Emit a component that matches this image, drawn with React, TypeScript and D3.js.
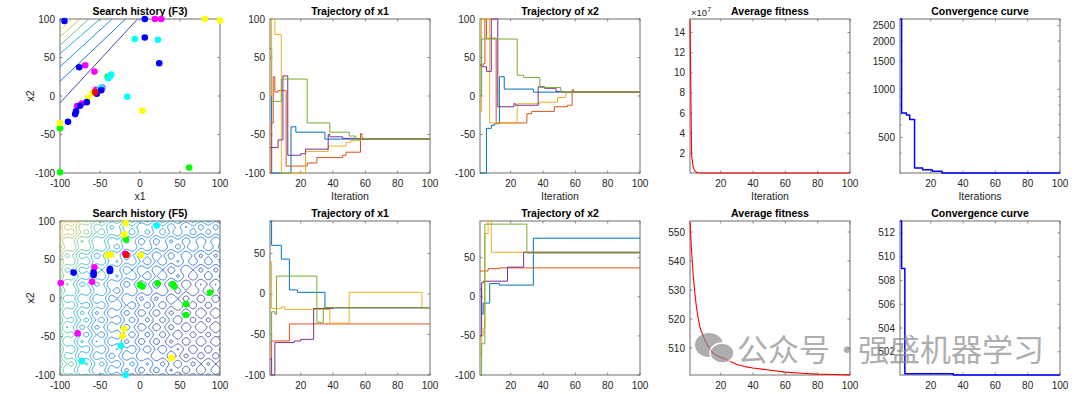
import React, { useEffect, useRef } from "react";
import * as d3 from "d3";

const WIDTH = 1080;
const HEIGHT = 394;
const PANEL_X = [60, 270, 480, 690, 900];
const PANEL_Y = [19, 221];
const PANEL_W = 160;
const PANEL_H = 154;

const FONT = "'Liberation Sans', Arial, Helvetica, sans-serif";
const AXIS_COLOR = "#6e6e6e";
const TEXT_COLOR = "#262626";

const PARULA = ["#352a87", "#0363e1", "#1385d4", "#07a7c3", "#42bc92", "#9bbf5c", "#e2ba30", "#f7d126", "#f9fb0e"];
const AGENT_COLORS = ["#0072BD", "#D95319", "#EDB120", "#7E2F8E", "#77AC30"];

const positionTicks = [-100, -50, 0, 50, 100];
const iterationTicks = [20, 40, 60, 80, 100];

// ---- F3 search history ----
const f3ContourLeftX2 = [86, 77, 66, 55, 38, 19, -9];
const f3ContourTopX1 = [-84, -75, -64, -50, -35, -18, -3];
const f3ContourLevel = [0.86, 0.68, 0.55, 0.4, 0.26, 0.13, 0.03];

const f3Green = [[-100, -42], [-100, -99], [61.4, -93], [-40.5, 25]];
const f3Yellow = [[81, 100], [100, 98], [3, -19], [-59.7, 3.7], [-65, -3], [-100, -35], [-52, 6]];
const f3Magenta = [[18.7, 100], [26.6, 100], [-68.5, 40], [-57, 31.7], [-72.7, -9.7], [-78.6, -13], [-55, 8], [-47, 11]];
const f3Cyan = [[-6.5, 74], [22.4, 73], [-36, 28], [-39.6, 23], [-37, 26], [-48, 11], [-50, 9], [-16, -1]];
const f3Blue = [[-94.5, 97.4], [6, 100], [6, 76], [24, 42.5], [-76, 37.4], [-48.4, 7.6], [-66.5, -8], [-75, -12.7], [-80, -20], [-81, -23.5], [-90, -33.5], [-54, 3]];
const f3Red = [[-56, 5]];

// ---- F5 search history ----
const f5Yellow = [[-17.9, 97], [-19.6, 82.6], [-36.7, 56], [-40, 56], [0.8, 55.5], [-20, -40], [-21.7, -49.5], [39.6, -78]];
const f5Green = [[-17.5, 76], [0, 17], [3, 15], [22, 19], [41, 18], [43, 15], [87.5, 7], [57.5, -8], [57.5, -22]];
const f5Cyan = [[21, 94], [-24, -62], [-72.5, -82], [-18, -100]];
const f5Magenta = [[-18.5, 57.5], [-57, 40], [-60, 21], [-99, 19.5], [-78, -46]];
const f5Blue = [[-83, 33], [-58, 33], [-58, 30], [-37.5, 37.7], [-37.5, 35]];
const f5Red = [[-17, 56]];

// background landscape of F5 (ripple lattice over a bowl)
const F5_PERIOD = 18.8;
const F5_BOWL_CENTER = [85, -35];
const F5_LATTICE_ORIGIN = [-18, 56];
const F5_RIPPLE = 4.5;
const F5_LEVELS = 20;
const F5_COLOR_SPAN = 0.9;
const F5_COLOR_GAMMA = 1.25;

// ---- trajectories, [iteration, value] held until next entry ----
const trajX1F3 = [
  [[1, 62], [2, -100], [14, -40], [17, -47], [35, -56], [100, -56]],
  [[1, -100], [2, -35], [3, 25], [4, 5], [6, 7], [11, -91], [24, -87], [30, -80], [46, -77], [48, -73], [57, -49], [58, -56], [100, -56]],
  [[1, 0], [2, 100], [4, 80], [8, -100], [23, -72], [37, -65], [48, -60], [51, -58], [57, -56], [100, -56]],
  [[1, -67], [6, -57], [9, 26], [12, -77], [20, -75], [23, -69], [37, -50], [38, -53], [46, -55], [56, -56], [100, -56]],
  [[1, -7], [8, 22], [24, -35], [38, -47], [50, -52], [54, -56], [100, -56]],
];
const trajX2F3 = [
  [[1, -100], [5, -42], [8, -38], [10, -36], [13, 25], [16, 9], [34, 5], [100, 5]],
  [[1, 40], [3, 42], [4, 100], [5, 75], [11, -35], [30, -23], [33, -20], [47, -14], [55, -12], [58, 8], [59, 5], [100, 5]],
  [[1, -20], [2, 100], [7, -35], [24, -10], [38, -8], [49, -2], [54, 4], [56, 5], [100, 5]],
  [[1, 40], [2, 38], [5, 32], [8, 100], [12, -14], [22, -10], [23, -12], [37, 12], [41, 10], [48, 6], [52, 5], [100, 5]],
  [[1, 0], [2, 74], [24, 27], [28, 24], [38, 11], [51, 5], [100, 5]],
];
const trajX1F5 = [
  [[1, 90], [2, 60], [8, 43], [13, 5], [18, 2], [35, -17], [100, -17]],
  [[1, -80], [2, -58], [13, -37], [100, -37]],
  [[1, 40], [2, -18], [8, -16], [10, -19], [38, -36], [50, 2], [95, -17], [100, -17]],
  [[1, -80], [2, -100], [4, -60], [16, -58], [20, -56], [28, -18], [40, -17], [100, -17]],
  [[1, -60], [2, -22], [4, -25], [5, 22], [30, -35], [34, -17], [100, -17]],
];
const trajX2F5 = [
  [[1, 10], [2, -22], [3, -8], [7, 17], [13, 15], [34, 75], [100, 75]],
  [[1, 33], [6, 36], [13, 37], [100, 37]],
  [[1, -75], [2, -50], [3, -40], [4, 81], [6, 97], [8, 57], [100, 57]],
  [[1, -50], [2, 18], [3, 20], [18, 38], [28, 57], [100, 57]],
  [[1, -100], [2, -60], [4, 93], [30, 56], [100, 56]],
];

// ---- fitness ----
const avgFitnessF3 = [[1, 1.53e8], [2, 1.8e7], [3, 6e6], [4, 2.5e6], [5, 1e6], [6, 6e5], [8, 4.5e5], [15, 4e5], [100, 4e5]];
const avgFitnessF3Ticks = [2e7, 4e7, 6e7, 8e7, 10e7, 12e7, 14e7];
const convergenceF3 = [[1, 2750], [2, 710], [5, 690], [7, 648], [10, 322], [15, 314], [21, 308], [27, 300], [100, 300]];
const convergenceF3Ticks = [500, 1000, 1500, 2000, 2500];
const convergenceF3Minor = [300, 400, 600, 700, 800, 900];

const avgFitnessF5 = [[1, 553.5], [2, 543], [3, 535], [4, 529], [5, 524], [6, 520.5], [7, 517.6], [8, 515.7], [9, 514.5], [10, 513], [11, 511.8], [12, 511], [13, 510], [14, 509.2], [15, 508.4], [17, 507.6], [20, 506.8], [25, 505.6], [30, 504.3], [35, 503.6], [40, 503.1], [50, 502.4], [60, 501.7], [70, 501.3], [80, 501], [90, 500.85], [100, 500.75]];
const avgFitnessF5Ticks = [510, 520, 530, 540, 550];
const convergenceF5 = [[1, 513], [2, 509], [4, 500.15], [34, 500.05], [100, 500.05]];
const convergenceF5Ticks = [502, 504, 506, 508, 510, 512];

type Svg = d3.Selection<SVGSVGElement, unknown, null, undefined>;
type Scale = (v: number) => number;

interface AxesOpts {
  title: string;
  xTicks: number[];
  yTicks: number[];
  yFmt?: (v: number) => string;
  yMinor?: number[];
  xLabel?: string;
  yLabel?: string;
}

function drawAxes(svg: Svg, col: number, row: number, x: Scale, y: Scale, o: AxesOpts) {
  const left = PANEL_X[col];
  const top = PANEL_Y[row];
  const right = left + PANEL_W;
  const bottom = top + PANEL_H;
  const tl = 2.5;
  const g = svg.append("g").attr("font-family", FONT);

  g.append("rect")
    .attr("x", left)
    .attr("y", top)
    .attr("width", PANEL_W)
    .attr("height", PANEL_H)
    .attr("fill", "white")
    .attr("stroke", AXIS_COLOR)
    .attr("stroke-width", 1);

  const tick = (x1: number, y1: number, x2: number, y2: number) =>
    g.append("line").attr("x1", x1).attr("y1", y1).attr("x2", x2).attr("y2", y2)
      .attr("stroke", AXIS_COLOR).attr("stroke-width", 0.8);

  o.xTicks.forEach((t) => {
    const px = x(t);
    tick(px, bottom, px, bottom - tl);
    tick(px, top, px, top + tl);
    g.append("text")
      .attr("x", px)
      .attr("y", bottom + 13.5)
      .attr("text-anchor", "middle")
      .attr("font-size", 10)
      .attr("fill", TEXT_COLOR)
      .text(String(t));
  });

  const fmt = o.yFmt ?? ((v: number) => String(v));
  o.yTicks.forEach((t) => {
    const py = y(t);
    tick(left, py, left + tl, py);
    tick(right, py, right - tl, py);
    g.append("text")
      .attr("x", left - 5)
      .attr("y", py + 3.5)
      .attr("text-anchor", "end")
      .attr("font-size", 10)
      .attr("fill", TEXT_COLOR)
      .text(fmt(t));
  });

  (o.yMinor ?? []).forEach((t) => {
    const py = y(t);
    tick(left, py, left + 1.5, py);
    tick(right, py, right - 1.5, py);
  });

  g.append("text")
    .attr("x", left + PANEL_W / 2)
    .attr("y", top - 4.5)
    .attr("text-anchor", "middle")
    .attr("font-size", 10.5)
    .attr("font-weight", "bold")
    .attr("fill", "#000")
    .text(o.title);

  if (o.xLabel) {
    g.append("text")
      .attr("x", left + PANEL_W / 2)
      .attr("y", bottom + 26.5)
      .attr("text-anchor", "middle")
      .attr("font-size", 10.5)
      .attr("fill", TEXT_COLOR)
      .text(o.xLabel);
  }
  if (o.yLabel) {
    g.append("text")
      .attr("transform", `translate(${left - 26},${top + PANEL_H / 2}) rotate(-90)`)
      .attr("text-anchor", "middle")
      .attr("font-size", 10.5)
      .attr("fill", TEXT_COLOR)
      .text(o.yLabel);
  }
}

function clipFor(svg: Svg, col: number, row: number, pad: number) {
  const id = `clip-${col}-${row}-${pad}`;
  svg.append("clipPath")
    .attr("id", id)
    .append("rect")
    .attr("x", PANEL_X[col] - pad)
    .attr("y", PANEL_Y[row] - pad)
    .attr("width", PANEL_W + 2 * pad)
    .attr("height", PANEL_H + 2 * pad);
  return `url(#${id})`;
}

function f5Landscape(a: number, b: number) {
  const q1 = (a - F5_BOWL_CENTER[0]) / F5_PERIOD;
  const q2 = (b - F5_BOWL_CENTER[1]) / F5_PERIOD;
  const r1 = (a - F5_LATTICE_ORIGIN[0]) / F5_PERIOD;
  const r2 = (b - F5_LATTICE_ORIGIN[1]) / F5_PERIOD;
  return q1 * q1 + q2 * q2 +
    F5_RIPPLE * (2 - Math.cos(2 * Math.PI * r1) - Math.cos(2 * Math.PI * r2));
}

const parula = d3.piecewise(d3.interpolateRgb, PARULA);

const App: React.FC = () => {
  const svgRef = useRef<SVGSVGElement | null>(null);

  useEffect(() => {
    if (!svgRef.current) return;
    const svg = d3.select(svgRef.current) as Svg;
    svg.selectAll("*").remove();

    const xScale = (col: number, domain: number[]) =>
      d3.scaleLinear().domain(domain).range([PANEL_X[col], PANEL_X[col] + PANEL_W]);
    const yScale = (row: number, domain: number[]) =>
      d3.scaleLinear().domain(domain).range([PANEL_Y[row] + PANEL_H, PANEL_Y[row]]);

    const scatter = (col: number, row: number, x: Scale, y: Scale, groups: [number[][], string][]) => {
      const g = svg.append("g").attr("clip-path", clipFor(svg, col, row, 4));
      groups.forEach(([pts, color]) => {
        g.selectAll(null)
          .data(pts)
          .join("circle")
          .attr("cx", (d) => x(d[0]))
          .attr("cy", (d) => y(d[1]))
          .attr("r", 3.3)
          .attr("fill", color);
      });
    };

    const lines = (col: number, row: number, x: Scale, y: Scale, series: number[][][], colors: string[], width: number, curve: d3.CurveFactory) => {
      const g = svg.append("g").attr("clip-path", clipFor(svg, col, row, 1));
      const line = d3.line<number[]>().x((d) => x(d[0])).y((d) => y(d[1])).curve(curve);
      series.forEach((s, i) => {
        g.append("path")
          .attr("d", line(s))
          .attr("fill", "none")
          .attr("stroke", colors[i])
          .attr("stroke-width", width)
          .attr("stroke-linejoin", "round");
      });
    };

    // ===== Row 1: F3 =====
    {
      const x = xScale(0, [-100, 100]);
      const y = yScale(0, [-100, 100]);
      drawAxes(svg, 0, 0, x, y, { title: "Search history (F3)", xTicks: positionTicks, yTicks: positionTicks, xLabel: "x1", yLabel: "x2" });
      const cg = svg.append("g").attr("clip-path", clipFor(svg, 0, 0, 0));
      f3ContourLeftX2.forEach((v, i) => {
        cg.append("line")
          .attr("x1", x(-100)).attr("y1", y(v))
          .attr("x2", x(f3ContourTopX1[i])).attr("y2", y(100))
          .attr("stroke", parula(f3ContourLevel[i]))
          .attr("stroke-width", 0.9);
      });
      scatter(0, 0, x, y, [[f3Green, "#00ff00"], [f3Yellow, "#ffff00"], [f3Magenta, "#ff00ff"], [f3Cyan, "#00ffff"], [f3Blue, "#0000ff"], [f3Red, "#ff0000"]]);
    }
    {
      const x = xScale(1, [1, 100]);
      const y = yScale(0, [-100, 100]);
      drawAxes(svg, 1, 0, x, y, { title: "Trajectory of x1", xTicks: iterationTicks, yTicks: positionTicks, xLabel: "Iteration" });
      lines(1, 0, x, y, trajX1F3, AGENT_COLORS, 1, d3.curveStepAfter);
    }
    {
      const x = xScale(2, [1, 100]);
      const y = yScale(0, [-100, 100]);
      drawAxes(svg, 2, 0, x, y, { title: "Trajectory of x2", xTicks: iterationTicks, yTicks: positionTicks, xLabel: "Iteration" });
      lines(2, 0, x, y, trajX2F3, AGENT_COLORS, 1, d3.curveStepAfter);
    }
    {
      const x = xScale(3, [1, 100]);
      const y = yScale(0, [4e5, 1.535e8]);
      drawAxes(svg, 3, 0, x, y, { title: "Average fitness", xTicks: iterationTicks, yTicks: avgFitnessF3Ticks, yFmt: (v) => String(Math.round(v / 1e7)), xLabel: "Iteration" });
      const t = svg.append("text")
        .attr("x", PANEL_X[3] + 1)
        .attr("y", PANEL_Y[0] - 3)
        .attr("font-family", FONT)
        .attr("font-size", 9.5)
        .attr("fill", TEXT_COLOR)
        .text("×10");
      t.append("tspan").attr("dy", -4).attr("font-size", 7).text("7");
      lines(3, 0, x, y, [avgFitnessF3], ["#ff0000"], 1.1, d3.curveLinear);
    }
    {
      const x = xScale(4, [1, 100]);
      const y = d3.scaleLog().domain([300, 2750]).range([PANEL_Y[0] + PANEL_H, PANEL_Y[0]]);
      drawAxes(svg, 4, 0, x, y, { title: "Convergence curve", xTicks: iterationTicks, yTicks: convergenceF3Ticks, yMinor: convergenceF3Minor, xLabel: "Iterations" });
      lines(4, 0, x, y, [convergenceF3], ["#0000ff"], 1.5, d3.curveStepAfter);
    }

    // ===== Row 2: F5 (x labels fall below the picture edge) =====
    {
      const x = xScale(0, [-100, 100]);
      const y = yScale(1, [-100, 100]);
      drawAxes(svg, 0, 1, x, y, { title: "Search history (F5)", xTicks: positionTicks, yTicks: positionTicks, yLabel: "x2" });

      const n = 220;
      const lo = -102;
      const hi = 102;
      const values: number[] = new Array(n * n);
      for (let j = 0; j < n; j++) {
        for (let i = 0; i < n; i++) {
          const a = lo + ((hi - lo) * i) / (n - 1);
          const b = hi - ((hi - lo) * j) / (n - 1);
          values[j * n + i] = f5Landscape(a, b);
        }
      }
      const [vmin, vmax] = d3.extent(values) as [number, number];
      const thresholds = d3.range(1, F5_LEVELS + 1).map((k) => vmin + (k * (vmax - vmin)) / (F5_LEVELS + 1));
      const contours = d3.contours().size([n, n]).thresholds(thresholds)(values);
      const gx = d3.scaleLinear().domain([0, n - 1]).range([x(lo), x(hi)]);
      const gy = d3.scaleLinear().domain([0, n - 1]).range([y(hi), y(lo)]);
      const cg = svg.append("g").attr("clip-path", clipFor(svg, 0, 1, 0));
      contours.forEach((c) => {
        let d = "";
        c.coordinates.forEach((poly) => {
          poly.forEach((ring) => {
            d += "M" + ring.map((p) => `${gx(p[0] - 0.5).toFixed(2)},${gy(p[1] - 0.5).toFixed(2)}`).join("L") + "Z";
          });
        });
        const t = Math.pow((c.value - vmin) / (vmax - vmin), F5_COLOR_GAMMA);
        cg.append("path")
          .attr("d", d)
          .attr("fill", "none")
          .attr("stroke", parula(F5_COLOR_SPAN * t))
          .attr("stroke-width", 0.8);
      });
      scatter(0, 1, x, y, [[f5Green, "#00ff00"], [f5Yellow, "#ffff00"], [f5Cyan, "#00ffff"], [f5Magenta, "#ff00ff"], [f5Blue, "#0000ff"], [f5Red, "#ff0000"]]);
    }
    {
      const x = xScale(1, [1, 100]);
      const y = yScale(1, [-100, 90]);
      drawAxes(svg, 1, 1, x, y, { title: "Trajectory of x1", xTicks: iterationTicks, yTicks: [-100, -50, 0, 50] });
      lines(1, 1, x, y, trajX1F5, AGENT_COLORS, 1, d3.curveStepAfter);
    }
    {
      const x = xScale(2, [1, 100]);
      const y = yScale(1, [-100, 97]);
      drawAxes(svg, 2, 1, x, y, { title: "Trajectory of x2", xTicks: iterationTicks, yTicks: [-100, -50, 0, 50] });
      lines(2, 1, x, y, trajX2F5, AGENT_COLORS, 1, d3.curveStepAfter);
    }
    {
      const x = xScale(3, [1, 100]);
      const y = yScale(1, [500.7, 553.8]);
      drawAxes(svg, 3, 1, x, y, { title: "Average fitness", xTicks: iterationTicks, yTicks: avgFitnessF5Ticks });
      lines(3, 1, x, y, [avgFitnessF5], ["#ff0000"], 1.1, d3.curveLinear);
    }
    {
      const x = xScale(4, [1, 100]);
      const y = yScale(1, [500.05, 513]);
      drawAxes(svg, 4, 1, x, y, { title: "Convergence curve", xTicks: iterationTicks, yTicks: convergenceF5Ticks });
      lines(4, 1, x, y, [convergenceF5], ["#0000ff"], 1.5, d3.curveStepAfter);
    }

    // watermark
    const wm = svg.append("g").attr("opacity", 0.7).attr("font-family", "'Noto Sans CJK SC', sans-serif").attr("fill", "#8c8c8c");
    wm.append("ellipse").attr("cx", 709).attr("cy", 345).attr("rx", 14).attr("ry", 12);
    wm.append("ellipse").attr("cx", 722).attr("cy", 353).attr("rx", 12).attr("ry", 10).attr("stroke", "#fff").attr("stroke-width", 1.5);
    wm.append("text").attr("x", 737).attr("y", 361).attr("font-size", 31).text("公众号");
    wm.append("text").attr("x", 847).attr("y", 361).attr("font-size", 31).attr("text-anchor", "middle").text("·");
    wm.append("text").attr("x", 858).attr("y", 361).attr("font-size", 31).text("强盛机器学习");
  }, []);

  return (
    <svg
      ref={svgRef}
      width={WIDTH}
      height={HEIGHT}
      style={{ position: "absolute", left: 0, top: 0, background: "#fff" }}
    />
  );
};

export default App;
